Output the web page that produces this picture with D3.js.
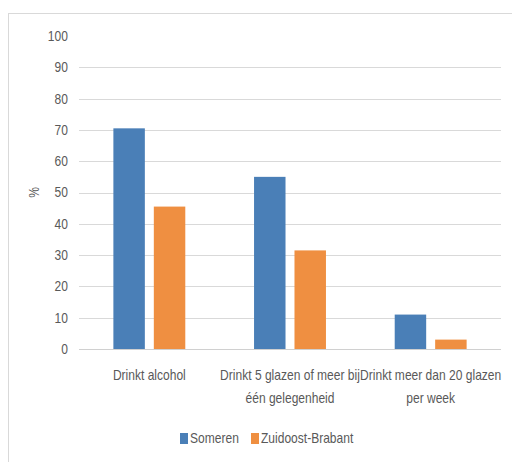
<!DOCTYPE html>
<html>
<head>
<meta charset="utf-8">
<script src="https://cdn.jsdelivr.net/npm/d3@7"></script>
<style>
  body { margin: 0; background: #fff; }
  svg text { font-family: "Liberation Sans", Arial, sans-serif; fill: #595959; font-size: 14px; }
</style>
</head>
<body>
<script>
// categorieen (regels van het label)
const categories = [
    ["Drinkt alcohol"],
    ["Drinkt 5 glazen of meer bij", "één gelegenheid"],
    ["Drinkt meer dan 20 glazen", "per week"]
];
const seriesNames = ["Someren", "Zuidoost-Brabant"];
const someren = [70.5, 55, 11];
const zuidoostBrabant = [45.5, 31.5, 3];
const yTicks = [0, 10, 20, 30, 40, 50, 60, 70, 80, 90, 100];
const colors = ["#4a7fb7", "#ef8f41"];

const width = 512, height = 462;
const margins = { left: 79, right: 11, top: 36, bottom: 113 };
const squeeze = 0.86;   // smal lettertype nabootsen

const svg = d3.select("body").append("svg")
    .attr("width", width)
    .attr("height", height);

// tekst horizontaal samengedrukt plaatsen
function narrowText(x, y, anchor) {
    return svg.append("g")
        .attr("transform", "translate(" + x + "," + y + ") scale(" + squeeze + ",1)")
        .append("text")
        .attr("text-anchor", anchor);
}

// kader
svg.append("rect")
    .attr("x", 8.5).attr("y", 13.5)
    .attr("width", 520).attr("height", 470)
    .attr("fill", "none")
    .attr("stroke", "#d9d9d9");

const yScale = d3.scaleLinear().domain([0, 100]).range([height - margins.bottom, margins.top]);
const xScale = d3.scaleBand().domain(d3.range(categories.length))
    .range([margins.left, width - margins.right]);
const xInner = d3.scaleBand().domain(d3.range(seriesNames.length))
    .range([0, xScale.bandwidth()]).paddingInner(0.222).paddingOuter(0.85);

// gridlijnen
svg.append("g").selectAll("line")
    .data(yTicks.filter(t => t > 0 && t < 100))
    .join("line")
    .attr("x1", margins.left).attr("x2", width - margins.right)
    .attr("y1", d => Math.round(yScale(d)) + 0.5)
    .attr("y2", d => Math.round(yScale(d)) + 0.5)
    .attr("stroke", "#d9d9d9");

// y-as labels
const yAxis = d3.axisLeft(yScale).tickValues(yTicks).tickSize(0).tickPadding(13);
const yG = svg.append("g").attr("transform", "translate(" + margins.left + ",0)").call(yAxis);
yG.select(".domain").remove();
yG.attr("font-family", null).attr("font-size", null);
yG.selectAll("text")
    .attr("fill", "#595959")
    .attr("transform", "scale(" + squeeze + ",1)")
    .style("font-size", "14px");

svg.append("text")
    .attr("transform", "translate(39," + yScale(50) + ") rotate(-90) scale(" + squeeze + ",1)")
    .attr("text-anchor", "middle")
    .text("%");

// staven
const series = [someren, zuidoostBrabant];
series.forEach((vals, s) => {
    svg.append("g").selectAll("rect")
        .data(vals)
        .join("rect")
        .attr("x", (d, i) => xScale(i) + xInner(s))
        .attr("y", d => yScale(d))
        .attr("width", xInner.bandwidth())
        .attr("height", d => yScale(0) - yScale(d))
        .attr("fill", colors[s]);
});

// nul-lijn
svg.append("line")
    .attr("x1", margins.left).attr("x2", width - margins.right)
    .attr("y1", Math.round(yScale(0)) + 0.5).attr("y2", Math.round(yScale(0)) + 0.5)
    .attr("stroke", "#d0d0d0");

// categorie labels
categories.forEach((lines, i) => {
    const t = narrowText(xScale(i) + xScale.bandwidth() / 2, yScale(0) + 31, "middle");
    lines.forEach((l, j) => {
        t.append("tspan")
            .attr("x", 0)
            .attr("dy", j === 0 ? 0 : 23)
            .text(l);
    });
});

// legenda
const legendX = [180, 251];
seriesNames.forEach((name, s) => {
    svg.append("rect")
        .attr("x", legendX[s]).attr("y", 433)
        .attr("width", 8).attr("height", 11)
        .attr("fill", colors[s]);
    narrowText(legendX[s] + 10, 443, "start").text(name);
});
</script>
</body>
</html>
